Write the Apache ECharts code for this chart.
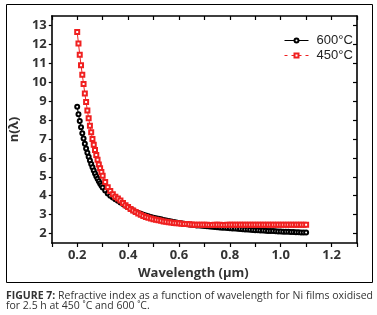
<!DOCTYPE html>
<html>
<head>
<meta charset="utf-8">
<script src="https://cdn.jsdelivr.net/npm/echarts@6/dist/echarts.min.js"></script>
<style>
  html, body { margin: 0; padding: 0; background: #fff; }
  #chart { width: 377px; height: 315px; }
</style>
</head>
<body>
<div id="chart"></div>
<script>
// wavelength (µm)
const wavelength = [
  0.200, 0.205, 0.210, 0.215, 0.220, 0.225, 0.230, 0.235, 0.240, 0.245,
  0.250, 0.255, 0.260, 0.265, 0.270, 0.275, 0.280, 0.285, 0.290, 0.295,
  0.300, 0.31, 0.32, 0.33, 0.34, 0.35, 0.36, 0.37, 0.38, 0.39,
  0.40, 0.41, 0.42, 0.43, 0.44, 0.45, 0.46, 0.47, 0.48, 0.49,
  0.50, 0.51, 0.52, 0.53, 0.54, 0.55, 0.56, 0.57, 0.58, 0.59,
  0.60, 0.61, 0.62, 0.63, 0.64, 0.65, 0.66, 0.67, 0.68, 0.69,
  0.70, 0.71, 0.72, 0.73, 0.74, 0.75, 0.76, 0.77, 0.78, 0.79,
  0.80, 0.81, 0.82, 0.83, 0.84, 0.85, 0.86, 0.87, 0.88, 0.89,
  0.90, 0.91, 0.92, 0.93, 0.94, 0.95, 0.96, 0.97, 0.98, 0.99,
  1.00, 1.01, 1.02, 1.03, 1.04, 1.05, 1.06, 1.07, 1.08, 1.09,
  1.10
]

// n(λ) 600°C
const n600 = [
  8.70, 8.30, 7.95, 7.62, 7.30, 7.02, 6.75, 6.50, 6.27, 6.06,
  5.86, 5.67, 5.50, 5.33, 5.18, 5.03, 4.90, 4.77, 4.65, 4.54,
  4.44, 4.27, 4.12, 4.00, 3.90, 3.81, 3.73, 3.64, 3.56, 3.47,
  3.39, 3.30, 3.22, 3.15, 3.09, 3.04, 2.99, 2.95, 2.91, 2.87,
  2.84, 2.81, 2.78, 2.75, 2.72, 2.69, 2.66, 2.63, 2.61, 2.58,
  2.56, 2.54, 2.52, 2.50, 2.48, 2.46, 2.45, 2.43, 2.42, 2.41,
  2.40, 2.38, 2.37, 2.36, 2.35, 2.33, 2.32, 2.31, 2.30, 2.29,
  2.28, 2.27, 2.26, 2.25, 2.24, 2.23, 2.22, 2.21, 2.20, 2.19,
  2.18, 2.17, 2.16, 2.16, 2.15, 2.14, 2.13, 2.13, 2.12, 2.11,
  2.11, 2.10, 2.09, 2.09, 2.08, 2.08, 2.07, 2.07, 2.06, 2.06,
  2.05
]

// n(λ) 450°C
const n450 = [
  12.65, 12.05, 11.45, 10.90, 10.40, 9.90, 9.40, 8.95, 8.50, 8.10,
  7.70, 7.35, 7.00, 6.70, 6.42, 6.15, 5.90, 5.65, 5.45, 5.25,
  5.05, 4.72, 4.45, 4.25, 4.08, 3.95, 3.85, 3.75, 3.62, 3.50,
  3.40, 3.30, 3.22, 3.14, 3.06, 2.99, 2.93, 2.88, 2.84, 2.80,
  2.76, 2.73, 2.70, 2.67, 2.64, 2.62, 2.60, 2.58, 2.56, 2.55,
  2.54, 2.52, 2.51, 2.50, 2.49, 2.48, 2.47, 2.47, 2.46, 2.46,
  2.46, 2.46, 2.45, 2.45, 2.46, 2.46, 2.46, 2.45, 2.45, 2.46,
  2.46, 2.46, 2.46, 2.46, 2.46, 2.46, 2.46, 2.46, 2.46, 2.46,
  2.46, 2.46, 2.46, 2.46, 2.46, 2.46, 2.46, 2.47, 2.47, 2.47,
  2.47, 2.47, 2.47, 2.47, 2.47, 2.47, 2.47, 2.47, 2.47, 2.47,
  2.47
]

// tick labels
const xLabels = [0.2, 0.4, 0.6, 0.8, 1.0, 1.2]
const yTicks = [2, 3, 4, 5, 6, 7, 8, 9, 10, 11, 12, 13]

const toPairs = (xs, ys) => xs.map((x, i) => [x, ys[i]])

const axisFont = { fontFamily: 'Open Sans', fontWeight: 'bold', fontSize: 13, color: '#333' }
const axisLine = { show: true, lineStyle: { color: '#000', width: 1.6 } }

const chart = echarts.init(document.getElementById('chart'))
chart.setOption({
  animation: false,
  grid: { left: 48, top: 16, right: 20, bottom: 72 },
  legend: {
    orient: 'vertical',
    left: 279,
    top: 29,
    itemWidth: 24,
    itemHeight: 5,
    itemGap: 2,
    textStyle: { fontFamily: 'Liberation Sans', fontSize: 13, color: '#222', padding: [0, 0, 0, 3] },
    data: [
      { name: '600°C', lineStyle: { width: 1, type: 'solid' } },
      { name: '450°C', lineStyle: { width: 1, type: [3, 4] } },
    ],
  },
  xAxis: [
    {
      type: 'value',
      min: 0.1,
      max: 1.3,
      interval: 0.1,
      axisLine,
      splitLine: { show: false },
      axisTick: { inside: false, length: 4, lineStyle: { color: '#000', width: 1.2 } },
      axisLabel: {
        ...axisFont,
        margin: 6,
        customValues: xLabels,
        formatter: (v) => v.toFixed(1),
      },
      name: 'Wavelength (µm)',
      nameLocation: 'middle',
      nameGap: 22,
      nameTextStyle: { ...axisFont, fontSize: 13, padding: [0, 22, 0, 0] },
    },
    {
      type: 'value',
      position: 'top',
      min: 0.1,
      max: 1.3,
      interval: 0.1,
      axisLine,
      splitLine: { show: false },
      axisTick: { inside: true, length: 4, lineStyle: { color: '#000', width: 1.2 } },
      axisLabel: { show: false },
    },
  ],
  yAxis: [
    {
      type: 'value',
      min: 1.5,
      max: 13.5,
      axisLine,
      splitLine: { show: false },
      axisTick: { show: true, inside: false, length: 3, customValues: yTicks, lineStyle: { color: '#000', width: 1.2 } },
      axisLabel: { ...axisFont, margin: 5, customValues: yTicks },
      name: 'n(λ)',
      nameLocation: 'middle',
      nameRotate: 90,
      nameGap: 25,
      nameTextStyle: { ...axisFont, fontSize: 13 },
    },
    {
      type: 'value',
      position: 'right',
      min: 1.5,
      max: 13.5,
      axisLine,
      splitLine: { show: false },
      axisTick: { show: true, inside: true, length: 4, customValues: yTicks, lineStyle: { color: '#000', width: 1.2 } },
      axisLabel: { show: false },
    },
  ],
  series: [
    {
      name: '600°C',
      type: 'line',
      data: toPairs(wavelength, n600),
      symbol: 'emptyCircle',
      symbolSize: 4,
      color: '#000',
      lineStyle: { color: '#000', width: 1 },
      itemStyle: { color: '#000', borderWidth: 1 },
    },
    {
      name: '450°C',
      type: 'line',
      data: toPairs(wavelength, n450),
      symbol: 'emptyRect',
      symbolSize: 4,
      color: '#f02020',
      lineStyle: { color: '#f02020', width: 1 },
      itemStyle: { color: '#f02020', borderWidth: 1 },
    },
  ],
  graphic: [
    {
      type: 'rect',
      shape: { x: 6.5, y: 4.5, width: 366, height: 278 },
      style: { fill: 'none', stroke: '#000', lineWidth: 1 },
      silent: true,
    },
    {
      type: 'text',
      left: 6,
      top: 291,
      style: {
        text: '{b|FIGURE 7:} Refractive index as a function of wavelength for Ni films oxidised\nfor 2.5 h at 450 ˚C and 600 ˚C.',
        fontFamily: 'Open Sans',
        fontSize: 10.5,
        lineHeight: 10,
        fill: '#333',
        rich: { b: { fontFamily: 'Open Sans', fontSize: 10.5, fontWeight: 'bold', fill: '#333' } },
      },
    },
  ],
})
</script>
</body>
</html>
